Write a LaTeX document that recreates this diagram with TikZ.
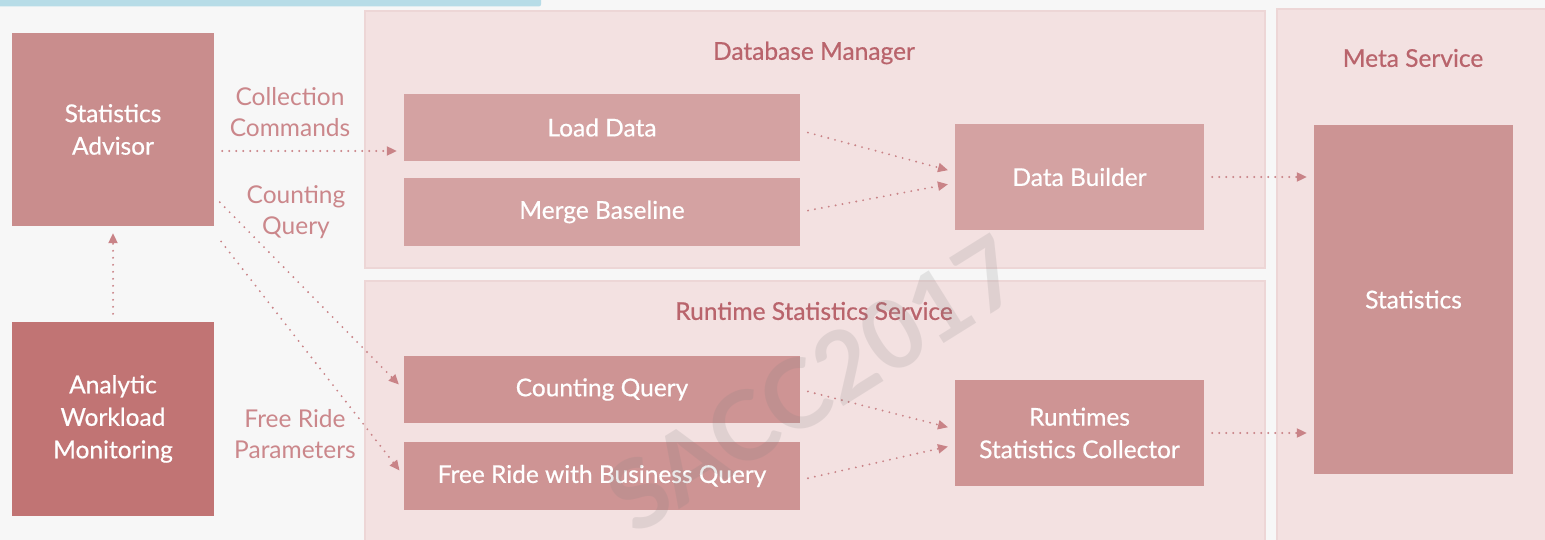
\documentclass[tikz,border=0pt]{standalone}
\usepackage{fontspec}
\setmainfont{Lato}
\newfontfamily\medfont[FakeBold=0.6]{Lato}
\usetikzlibrary{arrows.meta,calc}

\definecolor{bgcol}{HTML}{F7F7F7}
\definecolor{barcol}{HTML}{B7DCE7}
\definecolor{panelcol}{HTML}{F3E1E1}
\definecolor{paneledge}{HTML}{EDD6D6}
\definecolor{advcol}{HTML}{C98D8D}
\definecolor{awmcol}{HTML}{C17474}
\definecolor{boxcol}{HTML}{D4A2A2}
\definecolor{rtcol}{HTML}{CE9494}
\definecolor{statcol}{HTML}{CC9494}
\definecolor{labcol}{HTML}{CB878B}
\definecolor{titlecol}{HTML}{B9646C}
\definecolor{arrcol}{HTML}{C98387}

\tikzset{
  panel/.style={fill=panelcol, draw=paneledge, line width=1.5pt},
  block/.style={rectangle, inner sep=0pt, text=white, align=center,
    font=\medfont\fontsize{24.5}{32.5}\selectfont},
  title/.style={text=titlecol, font=\medfont\fontsize{24.5}{30}\selectfont},
  lab/.style={text=labcol, align=center, font=\fontsize{24.5}{31.5}\selectfont},
  flow/.style={draw=arrcol, line width=2.1pt, line cap=round,
    dash pattern=on 0pt off 7pt, -{Triangle[length=10pt,width=9pt]},
    shorten <=8pt, shorten >=7pt}
}

\begin{document}
\begin{tikzpicture}[x=1pt, y=-1pt]
  % canvas
  \fill[bgcol] (0,0) rectangle (1545,540);
  \useasboundingbox (0,0) rectangle (1545,540);
  \fill[barcol, rounded corners=2pt] (-5,-5) rectangle (541,6.4);

  % service panels
  \draw[panel] (365,11) rectangle (1265,268);
  \draw[panel] (365,281) rectangle (1265,545);
  \draw[panel] (1277,9) rectangle (1550,545);

  \node[title] (tdb) at (814,53) {Database Manager};
  \node[title] (trt) at (814,311) {Runtime Statistics Service};
  \node[title] (tms) at (1413,58) {Meta Service};

  % left column
  \node[block, fill=advcol, minimum width=202pt, minimum height=193pt]
    (adv) at (113,129.5) {Statistics\\Advisor};
  \node[block, fill=awmcol, minimum width=202pt, minimum height=194pt]
    (awm) at (113,419) {Analytic\\Workload\\Monitoring};

  % database manager
  \node[block, fill=boxcol, minimum width=396pt, minimum height=67pt]
    (load) at (602,127.5) {Load Data};
  \node[block, fill=boxcol, minimum width=396pt, minimum height=68pt]
    (merge) at (602,212) {Merge Baseline};
  \node[block, fill=boxcol, minimum width=249pt, minimum height=106pt]
    (db) at (1079.5,177) {Data Builder};

  % runtime statistics service
  \node[block, fill=rtcol, minimum width=396pt, minimum height=67pt]
    (cq) at (602,389.5) {Counting Query};
  \node[block, fill=rtcol, minimum width=396pt, minimum height=68pt]
    (fr) at (602,476) {Free Ride with Business Query};
  \node[block, fill=rtcol, minimum width=249pt, minimum height=106pt]
    (col) at (1079.5,433) {Runtimes\\Statistics Collector};

  % meta service
  \node[block, fill=statcol, minimum width=199pt, minimum height=349pt]
    (stat) at (1413.5,299.5) {Statistics};

  % edge labels
  \node[lab] (l1) at (290,112) {Collection\\Commands};
  \node[lab] (l2) at (296,212) {Counting\\Query};
  \node[lab] (l3) at (295,434) {Free Ride\\Parameters};

  % connectors
  \draw[flow] ([yshift=-21.5pt]adv.east) -- ([yshift=-21.5pt]adv.east -| load.west);
  \draw[flow] ([shift={(0pt,-67pt)}]adv.east) -- (cq.west);
  \draw[flow] ([shift={(2pt,-9pt)}]adv.south east) -- (fr.west);
  \draw[flow] (awm.north) -- (adv.south);

  \draw[flow] ([yshift=-3pt]load.east) -- ([yshift=5pt]db.west);
  \draw[flow] (merge.east) -- ([yshift=-6pt]db.west);
  \draw[flow] (db.east) -- (db.east -| stat.west);

  \draw[flow] (cq.east) -- ([yshift=4pt]col.west);
  \draw[flow] ([yshift=-4pt]fr.east) -- ([yshift=-12pt]col.west);
  \draw[flow] (col.east) -- (col.east -| stat.west);

  % watermark over everything
  \node[text=gray, opacity=0.17, rotate=32,
    font=\fontsize{96}{96}\selectfont\bfseries]
    (wm) at (814,384) {SACC2017};
\end{tikzpicture}
\end{document}
